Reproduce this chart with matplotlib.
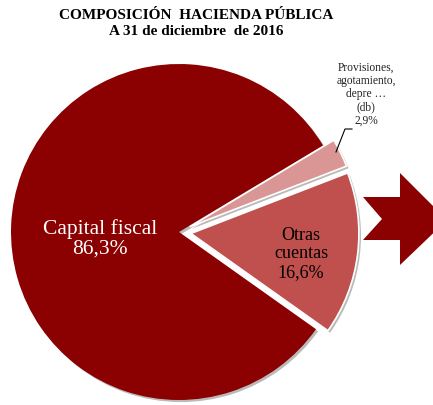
import matplotlib
matplotlib.use('Agg')
import matplotlib.pyplot as plt
import matplotlib.patheffects as pe
from matplotlib.patches import Polygon

# data
categories = ['Capital fiscal', 'Otras\ncuentas', 'Provisiones,\nagotamiento,\ndepre \u2026\n(db)']
values = [86.3, 16.6, 2.9]
value_labels = ['86,3%', '16,6%', '2,9%']
colors = ['#8B0000', '#C0504D', '#D99694']
explode = [0, 12, 12]   # pixels

plt.rcParams['font.family'] = ['Liberation Serif', 'DejaVu Serif']

fig = plt.figure(figsize=(4.33, 4.05), dpi=100)
ax = fig.add_axes([0, 0, 1, 1])

cx, cy, r = 179, 173, 168
wedges, _ = ax.pie(values, colors=colors, startangle=31, counterclock=True,
                   center=(cx, cy), radius=r, explode=explode,
                   frame=True, wedgeprops=dict(linewidth=0))
ax.set_xlim(0, 433)
ax.set_ylim(0, 405)
ax.axis('off')
for w in wedges:
    w.set_path_effects([pe.SimplePatchShadow(offset=(1.5, -1.5), shadow_rgbFace='#666666', alpha=0.45),
                        pe.Normal()])
for w in wedges[1:]:
    w.set_edgecolor('white')
    w.set_linewidth(1.2)

# labels
ax.text(100, 166, categories[0] + '\n' + value_labels[0], color='white', fontsize=15.5,
        ha='center', va='center', linespacing=1.05)
ax.text(301, 151, categories[1] + '\n' + value_labels[1], color='black', fontsize=13,
        ha='center', va='center', linespacing=1.15)
ax.text(366, 311, categories[2] + '\n' + value_labels[2], color='#222222', fontsize=8.3,
        ha='center', va='center', linespacing=1.15)
ax.plot([352, 345, 336], [276, 276, 253], color='black', lw=0.8)

# arrow
arrow = Polygon([(363, 208), (400, 208), (400, 232), (447, 185), (400, 140),
                 (400, 165), (363, 165), (382, 186)], closed=True,
                facecolor='#8B0000', edgecolor='none')
ax.add_patch(arrow)

fig.text(0.453, 0.978, 'COMPOSICIÓN  HACIENDA PÚBLICA\nA 31 de diciembre  de 2016',
         ha='center', va='top', fontsize=11, fontweight='bold', linespacing=1.3)

plt.savefig('out.png', dpi=100)
